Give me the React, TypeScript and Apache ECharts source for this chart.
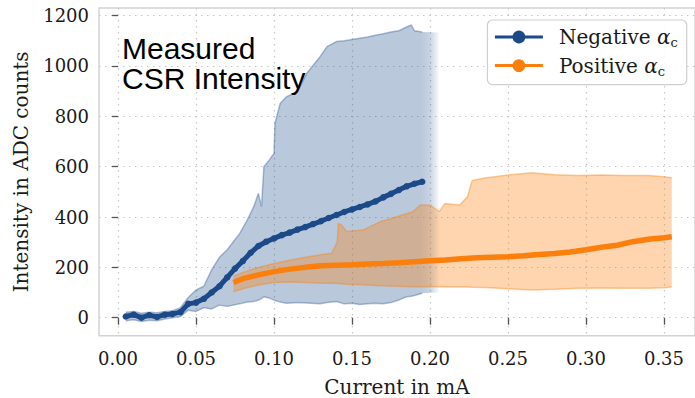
import React, { useEffect, useRef } from 'react';
import * as echarts from 'echarts';

// ---- tick labels ----
const xTicks = [0, 0.05, 0.1, 0.15, 0.2, 0.25, 0.3, 0.35];
const yTicks = [0, 200, 400, 600, 800, 1000, 1200];

// ---- Negative alpha_c : mean line ----
const negX = [0.005, 0.01, 0.015, 0.02, 0.025, 0.03, 0.035, 0.04, 0.045, 0.05, 0.055, 0.06, 0.065, 0.07, 0.075, 0.08, 0.085, 0.09, 0.095, 0.1, 0.105, 0.11, 0.115, 0.12, 0.125, 0.13, 0.135, 0.14, 0.145, 0.15, 0.155, 0.16, 0.165, 0.17, 0.175, 0.18, 0.185, 0.19, 0.195];
const negY = [5, 12, 0, 10, 3, 12, 15, 22, 55, 60, 75, 100, 125, 160, 195, 225, 258, 285, 302, 315, 328, 338, 350, 360, 372, 383, 396, 408, 420, 430, 440, 450, 462, 478, 492, 507, 522, 532, 540];

// ---- Negative alpha_c : band ----
const negBandX = [0.005, 0.01, 0.015, 0.02, 0.025, 0.03, 0.035, 0.04, 0.045, 0.05, 0.055, 0.06, 0.065, 0.07, 0.078, 0.083, 0.087, 0.09, 0.092, 0.0935, 0.097, 0.1, 0.1006, 0.104, 0.108, 0.115, 0.121, 0.1295, 0.134, 0.14, 0.145, 0.15, 0.155, 0.16, 0.165, 0.17, 0.175, 0.18, 0.185, 0.188, 0.19, 0.195];
const negBandUpper = [22, 25, 18, 22, 20, 25, 28, 40, 80, 110, 125, 190, 240, 270, 335, 390, 441, 494, 441, 600, 627, 653, 772, 852, 878, 898, 971, 1037, 1077, 1097, 1100, 1105, 1110, 1115, 1122, 1128, 1135, 1140, 1155, 1163, 1140, 1135];
const negBandLower = [-12, -8, -15, -10, -12, -5, 0, 5, 30, 25, 40, 35, 50, 45, 55, 62, 64, 70, 76, 83, 78, 70, 68, 62, 57, 60, 58, 55, 60, 64, 55, 57, 52, 55, 57, 55, 60, 70, 83, 85, 88, 97];
const negTailX = [0.195, 0.206];
const negTailUpper = [1135, 1133];
const negTailLower = [97, 100];

// ---- Positive alpha_c : mean line ----
const posX = [0.074, 0.08, 0.09, 0.1, 0.11, 0.12, 0.13, 0.14, 0.15, 0.16, 0.17, 0.18, 0.19, 0.2, 0.21, 0.22, 0.23, 0.24, 0.25, 0.26, 0.27, 0.28, 0.29, 0.3, 0.31, 0.32, 0.33, 0.34, 0.35, 0.355];
const posY = [140, 155, 170, 183, 193, 200, 206, 208, 210, 213, 215, 218, 222, 226, 229, 234, 238, 240, 242, 246, 251, 255, 261, 270, 280, 288, 302, 312, 318, 322];

// ---- Positive alpha_c : band ----
const posBandX = [0.074, 0.08, 0.09, 0.1, 0.11, 0.12, 0.13, 0.137, 0.1405, 0.1413, 0.1433, 0.1465, 0.157, 0.168, 0.1786, 0.189, 0.1936, 0.2, 0.206, 0.2096, 0.219, 0.224, 0.227, 0.235, 0.25, 0.265, 0.28, 0.295, 0.31, 0.325, 0.34, 0.35, 0.355];
const posBandUpper = [165, 180, 200, 215, 228, 240, 250, 256, 300, 375, 368, 342, 348, 381, 401, 421, 448, 448, 421, 454, 448, 480, 545, 555, 567, 576, 568, 565, 567, 565, 565, 560, 556];
const posBandLower = [103, 115, 130, 140, 142, 140, 137, 137, 136, 136, 135, 133, 131, 127, 125, 123, 123, 124, 123, 122, 123, 122, 121, 120, 115, 110, 113, 117, 118, 117, 117, 119, 122];

const NAVY = '#1c4a89';
const ORANGE = '#fb7f0c';
const SERIF = '"DejaVu Serif", serif';

function bandSeries(name: string, xs: number[], lo: number[], hi: number[], fill: any, z: number) {
  return {
    type: 'custom',
    name,
    silent: true,
    z,
    data: xs.map((x, i) => [x, lo[i], hi[i]]),
    encode: { x: 0, y: [1, 2] },
    renderItem: (params: any, api: any) => {
      if (params.dataIndex !== 0) return null;
      const pts: number[][] = [];
      for (let i = 0; i < xs.length; i++) pts.push(api.coord([xs[i], hi[i]]));
      for (let i = xs.length - 1; i >= 0; i--) pts.push(api.coord([xs[i], lo[i]]));
      return { type: 'polygon', shape: { points: pts }, style: { fill } };
    },
  };
}

function edgeSeries(name: string, xs: number[], ys: number[], color: string, z: number) {
  return {
    type: 'line',
    name,
    silent: true,
    z,
    symbol: 'none',
    data: xs.map((x, i) => [x, ys[i]]),
    lineStyle: { color, width: 1.5 },
  };
}

export default function App() {
  const ref = useRef<HTMLDivElement>(null);
  useEffect(() => {
    if (!ref.current) return;
    const chart = echarts.init(ref.current, null, { renderer: 'svg' });
    const legendRich = {
      n: { fontFamily: SERIF, fontSize: 20, color: '#1a1a1a', lineHeight: 24, padding: [0, 0, 0, 11] },
      a: { fontFamily: SERIF, fontSize: 20, fontStyle: 'italic', color: '#1a1a1a', lineHeight: 24 },
      s: { fontFamily: SERIF, fontSize: 13, color: '#1a1a1a', lineHeight: 13, verticalAlign: 'bottom' },
    };
    chart.setOption({
      animation: false,
      grid: { left: 99, right: 0, top: 8, bottom: 62.3, show: true, borderColor: '#d2d2d2', borderWidth: 1.5, containLabel: false, outerBoundsMode: 'none' },
      xAxis: {
        type: 'value',
        min: -0.0122,
        max: 0.3699,
        name: 'Current in mA',
        nameLocation: 'middle',
        nameGap: 41,
        nameTextStyle: { fontFamily: SERIF, fontSize: 20, lineHeight: 20, color: '#1a1a1a' },
        axisLine: { show: false },
        axisTick: { show: true, length: 7, customValues: xTicks, lineStyle: { color: '#555', width: 1.3 } },
        axisLabel: { customValues: xTicks, margin: 14, fontFamily: SERIF, fontSize: 18, color: '#1a1a1a', formatter: (v: number) => v.toFixed(2) },
        splitLine: { show: true, lineStyle: { color: '#c8c8c8', type: [1.5, 4.5], width: 1.2 } },
      },
      yAxis: {
        type: 'value',
        min: -71.5,
        max: 1230.4,
        name: 'Intensity in ADC counts',
        nameLocation: 'middle',
        nameGap: 68,
        nameRotate: 90,
        nameTextStyle: { fontFamily: SERIF, fontSize: 20, color: '#1a1a1a' },
        axisLine: { show: false },
        axisTick: { show: true, length: 6, customValues: yTicks, lineStyle: { color: '#555', width: 1.3 } },
        axisLabel: { customValues: yTicks, margin: 10, fontFamily: SERIF, fontSize: 18, color: '#1a1a1a', formatter: (v: number) => String(Math.round(v)) },
        splitLine: { show: true, lineStyle: { color: '#c8c8c8', type: [1.5, 4.5], width: 1.2 } },
      },
      legend: {
        data: ['Negative αc', 'Positive αc'],
        orient: 'vertical',
        right: 8.3,
        top: 20,
        itemWidth: 48,
        itemHeight: 16,
        itemGap: 6.6,
        padding: [7, 9, 7, 6],
        backgroundColor: 'rgba(255,255,255,0.85)',
        borderColor: '#cfcfcf',
        borderWidth: 1.2,
        borderRadius: 5,
        lineStyle: { width: 3 },
        formatter: (name: string) => (name.startsWith('Negative') ? '{n|Negative }{a|α}{s|c}' : '{n|Positive }{a|α}{s|c}'),
        textStyle: { rich: legendRich, fontFamily: SERIF, fontSize: 20 },
      },
      series: [
        bandSeries('negBand', negBandX, negBandLower, negBandUpper, 'rgba(28,74,137,0.3)', 1),
        bandSeries('negTail', negTailX, negTailLower, negTailUpper,
          new echarts.graphic.LinearGradient(0, 0, 1, 0, [
            { offset: 0, color: 'rgba(28,74,137,0.3)' },
            { offset: 0.45, color: 'rgba(28,74,137,0.24)' },
            { offset: 1, color: 'rgba(28,74,137,0.02)' },
          ]), 1),
        edgeSeries('negUpper', negBandX, negBandUpper, 'rgba(28,74,137,0.35)', 2),
        edgeSeries('negLower', negBandX, negBandLower, 'rgba(28,74,137,0.35)', 2),
        bandSeries('posBand', posBandX, posBandLower, posBandUpper, 'rgba(251,127,12,0.33)', 3),
        edgeSeries('posUpper', posBandX, posBandUpper, 'rgba(251,127,12,0.4)', 3),
        edgeSeries('posLower', posBandX, posBandLower, 'rgba(251,127,12,0.4)', 3),
        {
          type: 'line',
          name: 'Negative αc',
          z: 5,
          data: negX.map((x, i) => [x, negY[i]]),
          symbol: 'circle',
          symbolSize: 6.5,
          showSymbol: true,
          itemStyle: { color: NAVY },
          lineStyle: { color: NAVY, width: 5 },
        },
        {
          type: 'line',
          name: 'Positive αc',
          z: 6,
          data: posX.map((x, i) => [x, posY[i]]),
          symbol: 'circle',
          symbolSize: 6,
          showSymbol: false,
          itemStyle: { color: ORANGE },
          lineStyle: { color: ORANGE, width: 5.5 },
        },
      ],
      graphic: [
        {
          type: 'text',
          left: 122,
          top: 33,
          z: 20,
          style: {
            text: 'Measured\nCSR Intensity',
            font: '30px "Liberation Sans", Arial, sans-serif',
            lineHeight: 30,
            fill: '#000',
          },
        },
      ],
    });
    return () => chart.dispose();
  }, []);
  return <div ref={ref} style={{ position: 'fixed', left: 0, top: 0, width: 695, height: 398, background: '#fff' }} />;
}
